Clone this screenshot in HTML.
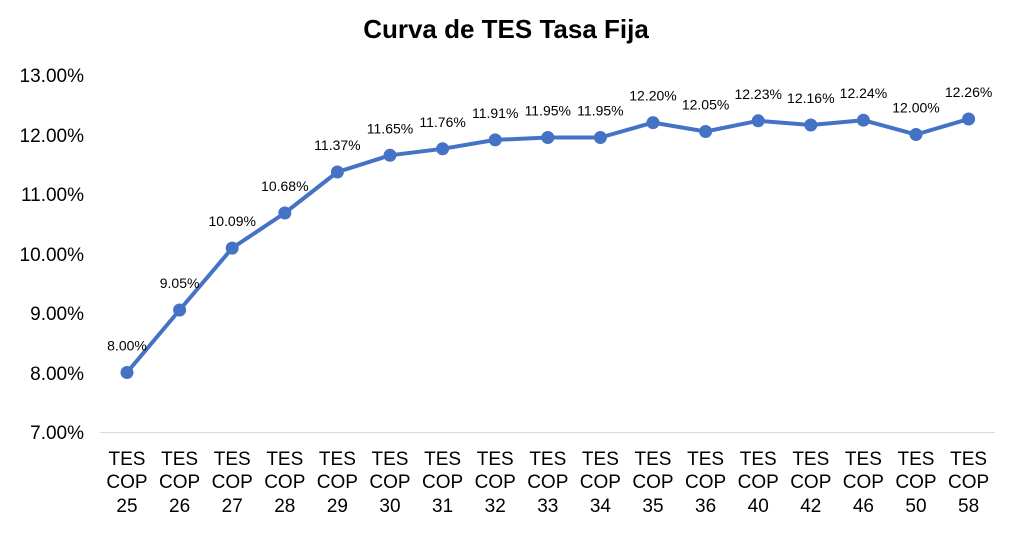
<!DOCTYPE html>
<html><head><meta charset="utf-8"><style>
body{margin:0;background:#fff;}
text{font-family:"Liberation Sans",sans-serif;fill:#000;}
</style></head><body>
<svg width="1012" height="532" viewBox="0 0 1012 532" xmlns="http://www.w3.org/2000/svg">
<text x="506" y="38" text-anchor="middle" font-size="26" font-weight="bold">Curva de TES Tasa Fija</text>
<g font-size="19" text-anchor="end">
<text x="84" y="82">13.00%</text>
<text x="84" y="142">12.00%</text>
<text x="84" y="201">11.00%</text>
<text x="84" y="261">10.00%</text>
<text x="84" y="320">9.00%</text>
<text x="84" y="380">8.00%</text>
<text x="84" y="439">7.00%</text>
</g>
<line x1="100" y1="432.5" x2="995" y2="432.5" stroke="#d9d9d9" stroke-width="1"/>
<polyline fill="none" stroke="#4472C4" stroke-width="4" stroke-linejoin="round" points="127,372.5 179.6,310 232.2,248.1 284.8,213 337.4,172 390,155.3 442.6,148.8 495.2,139.9 547.8,137.5 600.4,137.5 653,122.6 705.6,131.5 758.2,120.8 810.8,125 863.4,120.2 916,134.5 968.6,119"/>
<g fill="#4472C4">
<circle cx="127" cy="372.5" r="6.5"/><circle cx="179.6" cy="310" r="6.5"/><circle cx="232.2" cy="248.1" r="6.5"/><circle cx="284.8" cy="213" r="6.5"/><circle cx="337.4" cy="172" r="6.5"/><circle cx="390" cy="155.3" r="6.5"/><circle cx="442.6" cy="148.8" r="6.5"/><circle cx="495.2" cy="139.9" r="6.5"/><circle cx="547.8" cy="137.5" r="6.5"/><circle cx="600.4" cy="137.5" r="6.5"/><circle cx="653" cy="122.6" r="6.5"/><circle cx="705.6" cy="131.5" r="6.5"/><circle cx="758.2" cy="120.8" r="6.5"/><circle cx="810.8" cy="125" r="6.5"/><circle cx="863.4" cy="120.2" r="6.5"/><circle cx="916" cy="134.5" r="6.5"/><circle cx="968.6" cy="119" r="6.5"/>
</g>
<g font-size="14" text-anchor="middle">
<text x="127" y="350.5">8.00%</text><text x="179.6" y="288">9.05%</text><text x="232.2" y="226.1">10.09%</text><text x="284.8" y="191">10.68%</text><text x="337.4" y="150">11.37%</text><text x="390" y="133.3">11.65%</text><text x="442.6" y="126.8">11.76%</text><text x="495.2" y="117.9">11.91%</text><text x="547.8" y="115.5">11.95%</text><text x="600.4" y="115.5">11.95%</text><text x="653" y="100.6">12.20%</text><text x="705.6" y="109.5">12.05%</text><text x="758.2" y="98.8">12.23%</text><text x="810.8" y="103">12.16%</text><text x="863.4" y="98.2">12.24%</text><text x="916" y="112.5">12.00%</text><text x="968.6" y="97">12.26%</text>
</g>
<g font-size="19" text-anchor="middle">
<text x="127" y="465">TES</text><text x="127" y="488">COP</text><text x="127" y="512">25</text>
<text x="179.6" y="465">TES</text><text x="179.6" y="488">COP</text><text x="179.6" y="512">26</text>
<text x="232.2" y="465">TES</text><text x="232.2" y="488">COP</text><text x="232.2" y="512">27</text>
<text x="284.8" y="465">TES</text><text x="284.8" y="488">COP</text><text x="284.8" y="512">28</text>
<text x="337.4" y="465">TES</text><text x="337.4" y="488">COP</text><text x="337.4" y="512">29</text>
<text x="390" y="465">TES</text><text x="390" y="488">COP</text><text x="390" y="512">30</text>
<text x="442.6" y="465">TES</text><text x="442.6" y="488">COP</text><text x="442.6" y="512">31</text>
<text x="495.2" y="465">TES</text><text x="495.2" y="488">COP</text><text x="495.2" y="512">32</text>
<text x="547.8" y="465">TES</text><text x="547.8" y="488">COP</text><text x="547.8" y="512">33</text>
<text x="600.4" y="465">TES</text><text x="600.4" y="488">COP</text><text x="600.4" y="512">34</text>
<text x="653" y="465">TES</text><text x="653" y="488">COP</text><text x="653" y="512">35</text>
<text x="705.6" y="465">TES</text><text x="705.6" y="488">COP</text><text x="705.6" y="512">36</text>
<text x="758.2" y="465">TES</text><text x="758.2" y="488">COP</text><text x="758.2" y="512">40</text>
<text x="810.8" y="465">TES</text><text x="810.8" y="488">COP</text><text x="810.8" y="512">42</text>
<text x="863.4" y="465">TES</text><text x="863.4" y="488">COP</text><text x="863.4" y="512">46</text>
<text x="916" y="465">TES</text><text x="916" y="488">COP</text><text x="916" y="512">50</text>
<text x="968.6" y="465">TES</text><text x="968.6" y="488">COP</text><text x="968.6" y="512">58</text>
</g>
</svg>
</body></html>
